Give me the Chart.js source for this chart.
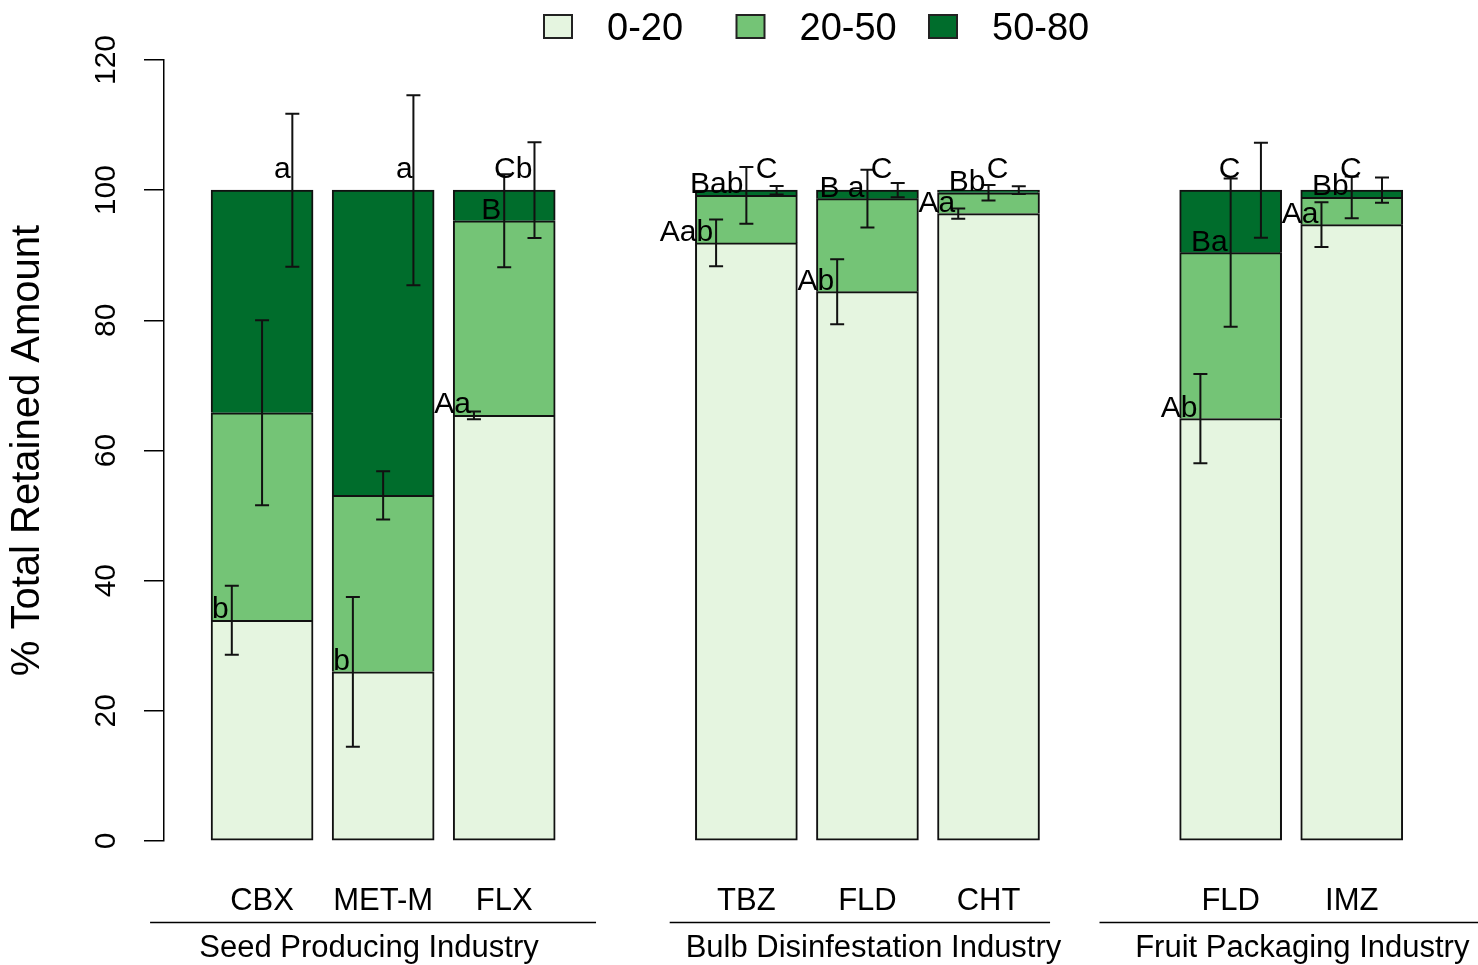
<!DOCTYPE html>
<html>
<head>
<meta charset="utf-8">
<title>% Total Retained Amount</title>
<script src="https://cdn.jsdelivr.net/npm/chart.js@4.4.1/dist/chart.umd.min.js"></script>
<style>
  html, body { margin: 0; padding: 0; background: #fff; }
  #wrap { width: 1478px; height: 965px; position: relative; }
</style>
</head>
<body>
<div id="wrap"><canvas id="chart"></canvas></div>
<script>
// Treatments (one bar each) and the slot they take on the x axis (empty slots between industries)
const treatments = ['CBX', 'MET-M', 'FLX', 'TBZ', 'FLD', 'CHT', 'FLD', 'IMZ'];
const slots = [0, 1, 2, 4, 5, 6, 8, 9];
const industries = ['Seed Producing Industry', 'Bulb Disinfestation Industry', 'Fruit Packaging Industry'];

// Fractions of the total retained amount (%)
const fractionNames = ['0-20', '20-50', '50-80'];
const frac020  = [33.9, 26.0, 65.4, 91.9, 84.4, 96.4, 64.9, 94.7];
const frac2050 = [31.9, 27.1, 29.9,  7.3, 14.3,  3.2, 25.5,  4.2];
const frac5080 = [34.2, 46.9,  4.7,  0.8,  1.3,  0.4,  9.6,  1.1];

// Error bars (half width, % units), centred on the top of each segment
const err020  = [5.3, 11.5, 0.6, 3.6, 5.0, 0.8, 6.85, 3.45];
const err2050 = [14.2, 3.7, 7.15, 4.35, 4.45, 1.2, 11.4, 3.2];
const err5080 = [11.75, 14.6, 7.35, 0.65, 1.1, 0.6, 7.3, 1.95];

// Significance letters
const let020  = ['b', 'b', 'Aa', 'Aab', 'Ab', 'Aa', 'Ab', 'Aa'];
const let2050 = ['', '', 'B', 'Bab', 'B a', 'Bb', 'Ba', 'Bb'];
const let5080 = ['a', 'a', 'Cb', 'C', 'C', 'C', 'C', 'C'];

const yTicks = [0, 20, 40, 60, 80, 100, 120];

// --- mise en page (unités de l'axe x : barre = 1, espace = 0.2) ---
const colours = ['#e5f5e0', '#74c476', '#006d2c'];
const fracs = [frac020, frac2050, frac5080];
const errs = [err020, err2050, err5080];
const letters = [let020, let2050, let5080];
const barX = slots.map(s => 0.7 + 1.2 * s);
const ebOffset = [-0.3, 0, 0.3];
const topLetterDx = [0.2, 0.21, 0.09, 0.2, 0.14, 0.09, -0.01, -0.01];
const topLetterY = 101.8;
const industrySpan = [[-0.41, 4.01], [4.74, 8.51], [9.0, 12.9]];
const industryMid = [1.76, 6.76, 11.01];
const FONT = '"Liberation Sans", Arial, sans-serif';

// Barres d'erreur et lettres
const errorBarsPlugin = {
    id: 'errorBars',
    afterDatasetsDraw(chart) {
        const ctx = chart.ctx;
        const xs = chart.scales.x, ys = chart.scales.y;
        ctx.save();
        ctx.strokeStyle = '#111';
        ctx.lineWidth = 2;
        barX.forEach((bx, i) => {
            let top = 0;
            fracs.forEach((f, k) => {
                top += f[i];
                const px = xs.getPixelForValue(bx + ebOffset[k]);
                const y1 = ys.getPixelForValue(top + errs[k][i]);
                const y2 = ys.getPixelForValue(top - errs[k][i]);
                ctx.beginPath();
                ctx.moveTo(px, y1); ctx.lineTo(px, y2);
                ctx.moveTo(px - 7, y1); ctx.lineTo(px + 7, y1);
                ctx.moveTo(px - 7, y2); ctx.lineTo(px + 7, y2);
                ctx.stroke();
            });
        });
        ctx.fillStyle = '#000';
        ctx.font = '30px ' + FONT;
        ctx.textBaseline = 'alphabetic';
        barX.forEach((bx, i) => {
            let top = 0;
            for (let k = 0; k < 2; k++) {
                top += fracs[k][i];
                if (!letters[k][i]) continue;
                ctx.textAlign = 'right';
                ctx.fillText(letters[k][i], xs.getPixelForValue(bx + ebOffset[k]) - 3, ys.getPixelForValue(top) - 2);
            }
            ctx.textAlign = 'center';
            ctx.fillText(let5080[i], xs.getPixelForValue(bx + topLetterDx[i]), ys.getPixelForValue(topLetterY));
        });
        ctx.restore();
    }
};

// Axe des industries et légende
const decorPlugin = {
    id: 'decor',
    afterDraw(chart) {
        const ctx = chart.ctx;
        const xs = chart.scales.x;
        const bottom = chart.chartArea.bottom;
        ctx.save();
        ctx.strokeStyle = '#000';
        ctx.lineWidth = 1.5;
        ctx.fillStyle = '#000';
        ctx.font = '31px ' + FONT;
        ctx.textAlign = 'center';
        ctx.textBaseline = 'alphabetic';
        industries.forEach((name, g) => {
            const y = bottom + 81.5;
            ctx.beginPath();
            ctx.moveTo(xs.getPixelForValue(industrySpan[g][0]), y);
            ctx.lineTo(xs.getPixelForValue(industrySpan[g][1]), y);
            ctx.stroke();
            ctx.fillText(name, xs.getPixelForValue(industryMid[g]), bottom + 116);
        });

        // légende
        const boxX = [544, 736.5, 929];
        ctx.font = '38px ' + FONT;
        ctx.textAlign = 'left';
        ctx.lineWidth = 2;
        chart.data.datasets.forEach((ds, k) => {
            ctx.fillStyle = ds.backgroundColor;
            ctx.fillRect(boxX[k], 15, 28, 23);
            ctx.strokeStyle = '#222';
            ctx.strokeRect(boxX[k], 15, 28, 23);
            ctx.fillStyle = '#000';
            ctx.fillText(ds.label, boxX[k] + 63, 40);
        });
        ctx.restore();
    }
};

// Une seule ligne entre deux segments empilés : pas de bordure basse au-dessus du premier
const datasets = fracs.map((f, k) => ({
    label: fractionNames[k],
    data: f.map((v, i) => ({ x: barX[i], y: v })),
    backgroundColor: colours[k],
    borderColor: '#111',
    borderWidth: k === 0 ? 2 : { top: 2, left: 2, right: 2, bottom: 0 },
    borderSkipped: false,
    barThickness: 102
}));

new Chart(document.getElementById('chart'), {
    type: 'bar',
    data: { datasets: datasets },
    plugins: [errorBarsPlugin, decorPlugin],
    options: {
        responsive: true,
        maintainAspectRatio: false,
        animation: false,
        layout: { padding: { top: 60, right: 28.2, bottom: 0, left: 0 } },
        plugins: {
            legend: { display: false },
            tooltip: { enabled: false }
        },
        scales: {
            x: {
                type: 'linear',
                stacked: true,
                offset: false,
                min: -0.272,
                max: 12.472,
                afterBuildTicks: scale => { scale.ticks = barX.map(v => ({ value: v })); },
                afterFit: scale => { scale.height = 124; },
                grid: { display: false, drawTicks: false },
                border: { display: false },
                ticks: {
                    autoSkip: false,
                    maxRotation: 0,
                    padding: 42,
                    color: '#000',
                    font: { size: 31, family: FONT },
                    callback: (value, index) => treatments[index]
                }
            },
            y: {
                stacked: true,
                min: 0,
                max: 120,
                afterBuildTicks: scale => { scale.ticks = yTicks.map(v => ({ value: v })); },
                afterFit: scale => { scale.width = 164; },
                grid: { drawOnChartArea: false, tickLength: 20, color: '#000', lineWidth: 1.5 },
                border: { display: true, color: '#000', width: 1.5 },
                ticks: {
                    minRotation: 90,
                    maxRotation: 90,
                    crossAlign: 'center',
                    padding: 12,
                    color: '#000',
                    font: { size: 30, family: FONT }
                },
                title: {
                    display: true,
                    text: '% Total Retained Amount',
                    color: '#000',
                    font: { size: 40, family: FONT }
                }
            }
        }
    }
});
</script>
</body>
</html>
